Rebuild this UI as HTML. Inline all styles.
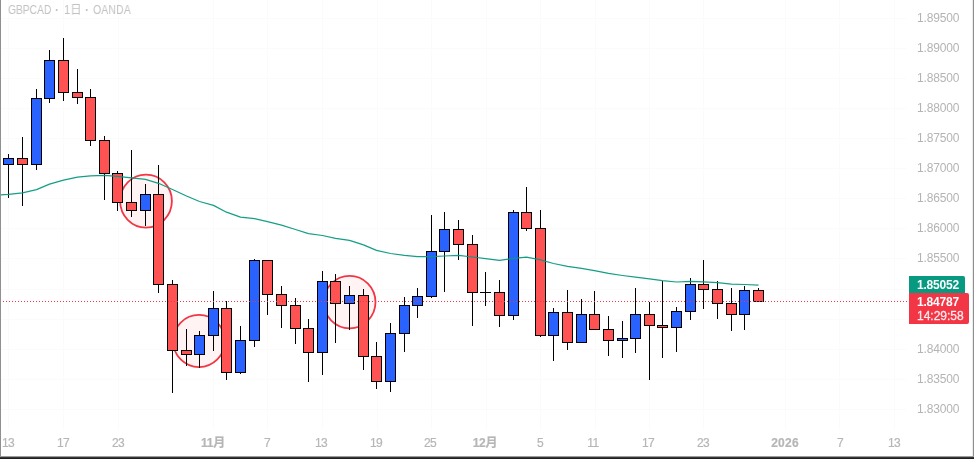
<!DOCTYPE html>
<html lang="ja"><head><meta charset="utf-8"><title>GBPCAD</title>
<style>
html,body{margin:0;padding:0;background:#fff;}
body{width:974px;height:459px;overflow:hidden;position:relative;font-family:"Liberation Sans","Noto Sans CJK JP",sans-serif;}
#c{position:absolute;left:0;top:0;width:974px;height:459px;display:block;}
.t{will-change:transform;position:absolute;white-space:nowrap;font-size:12px;line-height:14px;color:#b9b9b9;}
.pl{left:917px;width:44px;text-align:left;letter-spacing:-0.15px;color:#b4b4b4;}
.tl{top:436.3px;width:60px;margin-left:-30px;text-align:center;letter-spacing:-0.6px;color:#b6b6b6;-webkit-text-stroke:0.2px #b6b6b6;}
.b{font-weight:bold;}
#title{position:absolute;left:0;top:0;width:200px;height:20px;font-size:12px;line-height:14px;}
.ti{top:2.6px;color:#c2c2c2;transform-origin:0 50%;}
.tag{will-change:transform;position:absolute;left:909px;color:#fff;font-size:12px;line-height:14px;box-sizing:border-box;padding-left:8px;}
</style></head><body>
<svg id="c" width="974" height="459" viewBox="0 0 974 459"><g shape-rendering="crispEdges" fill="#fbfbfb"><rect x="8" y="0" width="1" height="429"/><rect x="63" y="0" width="1" height="429"/><rect x="118" y="0" width="1" height="429"/><rect x="213" y="0" width="1" height="429"/><rect x="267" y="0" width="1" height="429"/><rect x="322" y="0" width="1" height="429"/><rect x="377" y="0" width="1" height="429"/><rect x="431" y="0" width="1" height="429"/><rect x="486" y="0" width="1" height="429"/><rect x="540" y="0" width="1" height="429"/><rect x="595" y="0" width="1" height="429"/><rect x="649" y="0" width="1" height="429"/><rect x="703" y="0" width="1" height="429"/><rect x="785" y="0" width="1" height="429"/><rect x="839" y="0" width="1" height="429"/><rect x="894" y="0" width="1" height="429"/><rect x="0" y="18" width="906" height="1"/><rect x="0" y="48" width="906" height="1"/><rect x="0" y="78" width="906" height="1"/><rect x="0" y="108" width="906" height="1"/><rect x="0" y="138" width="906" height="1"/><rect x="0" y="168" width="906" height="1"/><rect x="0" y="198" width="906" height="1"/><rect x="0" y="228" width="906" height="1"/><rect x="0" y="258" width="906" height="1"/><rect x="0" y="289" width="906" height="1"/><rect x="0" y="319" width="906" height="1"/><rect x="0" y="349" width="906" height="1"/><rect x="0" y="379" width="906" height="1"/><rect x="0" y="409" width="906" height="1"/></g><ellipse cx="146.0" cy="201.1" rx="25.9" ry="26.5" fill="#fff4f3" stroke="#f23645" stroke-width="1.8"/><ellipse cx="199" cy="341" rx="25.9" ry="26.1" fill="#fff4f3" stroke="#f23645" stroke-width="1.8"/><ellipse cx="349.6" cy="302.1" rx="25.9" ry="26.25" fill="#fff4f3" stroke="#f23645" stroke-width="1.8"/><g shape-rendering="crispEdges"><rect x="8" y="154" width="1" height="44" fill="#000"/><rect x="3" y="158" width="11" height="7" fill="#000"/><rect x="4" y="159" width="9" height="5" fill="#2962ff"/><rect x="22" y="137" width="1" height="69" fill="#000"/><rect x="17" y="158" width="11" height="7" fill="#000"/><rect x="18" y="159" width="9" height="5" fill="#ff5252"/><rect x="36" y="89" width="1" height="81" fill="#000"/><rect x="31" y="98" width="11" height="67" fill="#000"/><rect x="32" y="99" width="9" height="65" fill="#2962ff"/><rect x="49" y="50" width="1" height="53" fill="#000"/><rect x="44" y="60" width="11" height="39" fill="#000"/><rect x="45" y="61" width="9" height="37" fill="#2962ff"/><rect x="63" y="38" width="1" height="63" fill="#000"/><rect x="58" y="60" width="11" height="33" fill="#000"/><rect x="59" y="61" width="9" height="31" fill="#ff5252"/><rect x="77" y="69" width="1" height="35" fill="#000"/><rect x="72" y="92" width="11" height="6" fill="#000"/><rect x="73" y="93" width="9" height="4" fill="#ff5252"/><rect x="90" y="89" width="1" height="57" fill="#000"/><rect x="85" y="97" width="11" height="44" fill="#000"/><rect x="86" y="98" width="9" height="42" fill="#ff5252"/><rect x="104" y="136" width="1" height="64" fill="#000"/><rect x="99" y="140" width="11" height="34" fill="#000"/><rect x="100" y="141" width="9" height="32" fill="#ff5252"/><rect x="117" y="171" width="1" height="40" fill="#000"/><rect x="112" y="173" width="11" height="30" fill="#000"/><rect x="113" y="174" width="9" height="28" fill="#ff5252"/><rect x="131" y="150" width="1" height="67" fill="#000"/><rect x="126" y="202" width="11" height="9" fill="#000"/><rect x="127" y="203" width="9" height="7" fill="#ff5252"/><rect x="145" y="184" width="1" height="42" fill="#000"/><rect x="140" y="194" width="11" height="17" fill="#000"/><rect x="141" y="195" width="9" height="15" fill="#2962ff"/><rect x="158" y="165" width="1" height="128" fill="#000"/><rect x="153" y="194" width="11" height="91" fill="#000"/><rect x="154" y="195" width="9" height="89" fill="#ff5252"/><rect x="172" y="280" width="1" height="113" fill="#000"/><rect x="167" y="284" width="11" height="67" fill="#000"/><rect x="168" y="285" width="9" height="65" fill="#ff5252"/><rect x="186" y="329" width="1" height="37" fill="#000"/><rect x="181" y="350" width="11" height="5" fill="#000"/><rect x="182" y="351" width="9" height="3" fill="#ff5252"/><rect x="199" y="331" width="1" height="37" fill="#000"/><rect x="194" y="335" width="11" height="20" fill="#000"/><rect x="195" y="336" width="9" height="18" fill="#2962ff"/><rect x="213" y="291" width="1" height="60" fill="#000"/><rect x="208" y="308" width="11" height="28" fill="#000"/><rect x="209" y="309" width="9" height="26" fill="#2962ff"/><rect x="226" y="301" width="1" height="79" fill="#000"/><rect x="221" y="308" width="11" height="65" fill="#000"/><rect x="222" y="309" width="9" height="63" fill="#ff5252"/><rect x="240" y="326" width="1" height="48" fill="#000"/><rect x="235" y="340" width="11" height="33" fill="#000"/><rect x="236" y="341" width="9" height="31" fill="#2962ff"/><rect x="254" y="259" width="1" height="88" fill="#000"/><rect x="249" y="260" width="11" height="81" fill="#000"/><rect x="250" y="261" width="9" height="79" fill="#2962ff"/><rect x="267" y="260" width="1" height="55" fill="#000"/><rect x="262" y="260" width="11" height="35" fill="#000"/><rect x="263" y="261" width="9" height="33" fill="#ff5252"/><rect x="281" y="286" width="1" height="42" fill="#000"/><rect x="276" y="294" width="11" height="12" fill="#000"/><rect x="277" y="295" width="9" height="10" fill="#ff5252"/><rect x="295" y="298" width="1" height="46" fill="#000"/><rect x="290" y="305" width="11" height="24" fill="#000"/><rect x="291" y="306" width="9" height="22" fill="#ff5252"/><rect x="308" y="319" width="1" height="63" fill="#000"/><rect x="303" y="328" width="11" height="25" fill="#000"/><rect x="304" y="329" width="9" height="23" fill="#ff5252"/><rect x="322" y="271" width="1" height="104" fill="#000"/><rect x="317" y="281" width="11" height="72" fill="#000"/><rect x="318" y="282" width="9" height="70" fill="#2962ff"/><rect x="335" y="274" width="1" height="69" fill="#000"/><rect x="330" y="281" width="11" height="23" fill="#000"/><rect x="331" y="282" width="9" height="21" fill="#ff5252"/><rect x="349" y="286" width="1" height="44" fill="#000"/><rect x="344" y="295" width="11" height="9" fill="#000"/><rect x="345" y="296" width="9" height="7" fill="#2962ff"/><rect x="363" y="289" width="1" height="81" fill="#000"/><rect x="358" y="295" width="11" height="62" fill="#000"/><rect x="359" y="296" width="9" height="60" fill="#ff5252"/><rect x="376" y="342" width="1" height="47" fill="#000"/><rect x="371" y="356" width="11" height="26" fill="#000"/><rect x="372" y="357" width="9" height="24" fill="#ff5252"/><rect x="390" y="323" width="1" height="69" fill="#000"/><rect x="385" y="333" width="11" height="49" fill="#000"/><rect x="386" y="334" width="9" height="47" fill="#2962ff"/><rect x="404" y="297" width="1" height="55" fill="#000"/><rect x="399" y="305" width="11" height="29" fill="#000"/><rect x="400" y="306" width="9" height="27" fill="#2962ff"/><rect x="417" y="288" width="1" height="30" fill="#000"/><rect x="412" y="296" width="11" height="10" fill="#000"/><rect x="413" y="297" width="9" height="8" fill="#2962ff"/><rect x="431" y="215" width="1" height="83" fill="#000"/><rect x="426" y="251" width="11" height="46" fill="#000"/><rect x="427" y="252" width="9" height="44" fill="#2962ff"/><rect x="444" y="212" width="1" height="80" fill="#000"/><rect x="439" y="229" width="11" height="23" fill="#000"/><rect x="440" y="230" width="9" height="21" fill="#2962ff"/><rect x="458" y="220" width="1" height="40" fill="#000"/><rect x="453" y="229" width="11" height="16" fill="#000"/><rect x="454" y="230" width="9" height="14" fill="#ff5252"/><rect x="472" y="235" width="1" height="91" fill="#000"/><rect x="467" y="244" width="11" height="49" fill="#000"/><rect x="468" y="245" width="9" height="47" fill="#ff5252"/><rect x="485" y="272" width="1" height="34" fill="#000"/><rect x="480" y="292" width="11" height="1" fill="#000"/><rect x="499" y="280" width="1" height="47" fill="#000"/><rect x="494" y="292" width="11" height="24" fill="#000"/><rect x="495" y="293" width="9" height="22" fill="#ff5252"/><rect x="513" y="210" width="1" height="110" fill="#000"/><rect x="508" y="212" width="11" height="104" fill="#000"/><rect x="509" y="213" width="9" height="102" fill="#2962ff"/><rect x="526" y="187" width="1" height="44" fill="#000"/><rect x="521" y="212" width="11" height="17" fill="#000"/><rect x="522" y="213" width="9" height="15" fill="#ff5252"/><rect x="540" y="210" width="1" height="127" fill="#000"/><rect x="535" y="228" width="11" height="108" fill="#000"/><rect x="536" y="229" width="9" height="106" fill="#ff5252"/><rect x="553" y="308" width="1" height="53" fill="#000"/><rect x="548" y="312" width="11" height="24" fill="#000"/><rect x="549" y="313" width="9" height="22" fill="#2962ff"/><rect x="567" y="290" width="1" height="60" fill="#000"/><rect x="562" y="312" width="11" height="31" fill="#000"/><rect x="563" y="313" width="9" height="29" fill="#ff5252"/><rect x="581" y="299" width="1" height="44" fill="#000"/><rect x="576" y="314" width="11" height="29" fill="#000"/><rect x="577" y="315" width="9" height="27" fill="#2962ff"/><rect x="594" y="291" width="1" height="39" fill="#000"/><rect x="589" y="314" width="11" height="16" fill="#000"/><rect x="590" y="315" width="9" height="14" fill="#ff5252"/><rect x="608" y="316" width="1" height="40" fill="#000"/><rect x="603" y="329" width="11" height="12" fill="#000"/><rect x="604" y="330" width="9" height="10" fill="#ff5252"/><rect x="622" y="321" width="1" height="37" fill="#000"/><rect x="617" y="338" width="11" height="3" fill="#000"/><rect x="618" y="339" width="9" height="1" fill="#2962ff"/><rect x="635" y="288" width="1" height="65" fill="#000"/><rect x="630" y="314" width="11" height="25" fill="#000"/><rect x="631" y="315" width="9" height="23" fill="#2962ff"/><rect x="649" y="302" width="1" height="78" fill="#000"/><rect x="644" y="314" width="11" height="12" fill="#000"/><rect x="645" y="315" width="9" height="10" fill="#ff5252"/><rect x="662" y="281" width="1" height="77" fill="#000"/><rect x="657" y="325" width="11" height="3" fill="#000"/><rect x="658" y="326" width="9" height="1" fill="#ff5252"/><rect x="676" y="307" width="1" height="45" fill="#000"/><rect x="671" y="311" width="11" height="17" fill="#000"/><rect x="672" y="312" width="9" height="15" fill="#2962ff"/><rect x="690" y="278" width="1" height="42" fill="#000"/><rect x="685" y="284" width="11" height="28" fill="#000"/><rect x="686" y="285" width="9" height="26" fill="#2962ff"/><rect x="703" y="260" width="1" height="49" fill="#000"/><rect x="698" y="284" width="11" height="6" fill="#000"/><rect x="699" y="285" width="9" height="4" fill="#ff5252"/><rect x="717" y="281" width="1" height="38" fill="#000"/><rect x="712" y="289" width="11" height="15" fill="#000"/><rect x="713" y="290" width="9" height="13" fill="#ff5252"/><rect x="731" y="288" width="1" height="43" fill="#000"/><rect x="726" y="303" width="11" height="12" fill="#000"/><rect x="727" y="304" width="9" height="10" fill="#ff5252"/><rect x="744" y="286" width="1" height="44" fill="#000"/><rect x="739" y="290" width="11" height="25" fill="#000"/><rect x="740" y="291" width="9" height="23" fill="#2962ff"/><rect x="758" y="288" width="1" height="14" fill="#000"/><rect x="753" y="290" width="11" height="12" fill="#000"/><rect x="754" y="291" width="9" height="10" fill="#ff5252"/></g><polyline points="0.5,194.8 8.5,194.3 22.5,192.8 36.5,189.6 49.5,184.2 63.5,180.2 77.5,177.2 90.5,175.8 104.5,175.3 117.5,176.3 131.5,177.8 145.5,179.3 158.5,183.3 172.5,189.5 186.5,196.0 199.5,201.5 213.5,205.4 226.5,212.2 240.5,217.2 254.5,218.7 267.5,221.7 281.5,225.2 295.5,229.5 308.5,233.7 322.5,235.5 335.5,238.3 349.5,240.4 363.5,244.9 376.5,250.4 390.5,253.5 404.5,255.4 417.5,256.7 431.5,256.6 444.5,256.0 458.5,255.4 472.5,257.0 485.5,258.6 499.5,260.4 513.5,258.4 526.5,257.1 540.5,259.9 553.5,263.5 567.5,266.3 581.5,268.3 594.5,270.6 608.5,273.4 622.5,275.5 635.5,277.2 649.5,278.9 662.5,280.7 676.5,282.0 690.5,281.4 703.5,281.8 717.5,282.6 731.5,284.1 744.5,284.5 758.5,285.2" fill="none" stroke="#089981" stroke-width="1.25" stroke-opacity="0.95" stroke-linejoin="round"/><g shape-rendering="crispEdges" fill="#f23645"><rect x="0" y="301" width="1" height="1"/><rect x="3" y="301" width="1" height="1"/><rect x="6" y="301" width="1" height="1"/><rect x="9" y="301" width="1" height="1"/><rect x="12" y="301" width="1" height="1"/><rect x="15" y="301" width="1" height="1"/><rect x="18" y="301" width="1" height="1"/><rect x="21" y="301" width="1" height="1"/><rect x="24" y="301" width="1" height="1"/><rect x="27" y="301" width="1" height="1"/><rect x="30" y="301" width="1" height="1"/><rect x="33" y="301" width="1" height="1"/><rect x="36" y="301" width="1" height="1"/><rect x="39" y="301" width="1" height="1"/><rect x="42" y="301" width="1" height="1"/><rect x="45" y="301" width="1" height="1"/><rect x="48" y="301" width="1" height="1"/><rect x="51" y="301" width="1" height="1"/><rect x="54" y="301" width="1" height="1"/><rect x="57" y="301" width="1" height="1"/><rect x="60" y="301" width="1" height="1"/><rect x="63" y="301" width="1" height="1"/><rect x="66" y="301" width="1" height="1"/><rect x="69" y="301" width="1" height="1"/><rect x="72" y="301" width="1" height="1"/><rect x="75" y="301" width="1" height="1"/><rect x="78" y="301" width="1" height="1"/><rect x="81" y="301" width="1" height="1"/><rect x="84" y="301" width="1" height="1"/><rect x="87" y="301" width="1" height="1"/><rect x="90" y="301" width="1" height="1"/><rect x="93" y="301" width="1" height="1"/><rect x="96" y="301" width="1" height="1"/><rect x="99" y="301" width="1" height="1"/><rect x="102" y="301" width="1" height="1"/><rect x="105" y="301" width="1" height="1"/><rect x="108" y="301" width="1" height="1"/><rect x="111" y="301" width="1" height="1"/><rect x="114" y="301" width="1" height="1"/><rect x="117" y="301" width="1" height="1"/><rect x="120" y="301" width="1" height="1"/><rect x="123" y="301" width="1" height="1"/><rect x="126" y="301" width="1" height="1"/><rect x="129" y="301" width="1" height="1"/><rect x="132" y="301" width="1" height="1"/><rect x="135" y="301" width="1" height="1"/><rect x="138" y="301" width="1" height="1"/><rect x="141" y="301" width="1" height="1"/><rect x="144" y="301" width="1" height="1"/><rect x="147" y="301" width="1" height="1"/><rect x="150" y="301" width="1" height="1"/><rect x="153" y="301" width="1" height="1"/><rect x="156" y="301" width="1" height="1"/><rect x="159" y="301" width="1" height="1"/><rect x="162" y="301" width="1" height="1"/><rect x="165" y="301" width="1" height="1"/><rect x="168" y="301" width="1" height="1"/><rect x="171" y="301" width="1" height="1"/><rect x="174" y="301" width="1" height="1"/><rect x="177" y="301" width="1" height="1"/><rect x="180" y="301" width="1" height="1"/><rect x="183" y="301" width="1" height="1"/><rect x="186" y="301" width="1" height="1"/><rect x="189" y="301" width="1" height="1"/><rect x="192" y="301" width="1" height="1"/><rect x="195" y="301" width="1" height="1"/><rect x="198" y="301" width="1" height="1"/><rect x="201" y="301" width="1" height="1"/><rect x="204" y="301" width="1" height="1"/><rect x="207" y="301" width="1" height="1"/><rect x="210" y="301" width="1" height="1"/><rect x="213" y="301" width="1" height="1"/><rect x="216" y="301" width="1" height="1"/><rect x="219" y="301" width="1" height="1"/><rect x="222" y="301" width="1" height="1"/><rect x="225" y="301" width="1" height="1"/><rect x="228" y="301" width="1" height="1"/><rect x="231" y="301" width="1" height="1"/><rect x="234" y="301" width="1" height="1"/><rect x="237" y="301" width="1" height="1"/><rect x="240" y="301" width="1" height="1"/><rect x="243" y="301" width="1" height="1"/><rect x="246" y="301" width="1" height="1"/><rect x="249" y="301" width="1" height="1"/><rect x="252" y="301" width="1" height="1"/><rect x="255" y="301" width="1" height="1"/><rect x="258" y="301" width="1" height="1"/><rect x="261" y="301" width="1" height="1"/><rect x="264" y="301" width="1" height="1"/><rect x="267" y="301" width="1" height="1"/><rect x="270" y="301" width="1" height="1"/><rect x="273" y="301" width="1" height="1"/><rect x="276" y="301" width="1" height="1"/><rect x="279" y="301" width="1" height="1"/><rect x="282" y="301" width="1" height="1"/><rect x="285" y="301" width="1" height="1"/><rect x="288" y="301" width="1" height="1"/><rect x="291" y="301" width="1" height="1"/><rect x="294" y="301" width="1" height="1"/><rect x="297" y="301" width="1" height="1"/><rect x="300" y="301" width="1" height="1"/><rect x="303" y="301" width="1" height="1"/><rect x="306" y="301" width="1" height="1"/><rect x="309" y="301" width="1" height="1"/><rect x="312" y="301" width="1" height="1"/><rect x="315" y="301" width="1" height="1"/><rect x="318" y="301" width="1" height="1"/><rect x="321" y="301" width="1" height="1"/><rect x="324" y="301" width="1" height="1"/><rect x="327" y="301" width="1" height="1"/><rect x="330" y="301" width="1" height="1"/><rect x="333" y="301" width="1" height="1"/><rect x="336" y="301" width="1" height="1"/><rect x="339" y="301" width="1" height="1"/><rect x="342" y="301" width="1" height="1"/><rect x="345" y="301" width="1" height="1"/><rect x="348" y="301" width="1" height="1"/><rect x="351" y="301" width="1" height="1"/><rect x="354" y="301" width="1" height="1"/><rect x="357" y="301" width="1" height="1"/><rect x="360" y="301" width="1" height="1"/><rect x="363" y="301" width="1" height="1"/><rect x="366" y="301" width="1" height="1"/><rect x="369" y="301" width="1" height="1"/><rect x="372" y="301" width="1" height="1"/><rect x="375" y="301" width="1" height="1"/><rect x="378" y="301" width="1" height="1"/><rect x="381" y="301" width="1" height="1"/><rect x="384" y="301" width="1" height="1"/><rect x="387" y="301" width="1" height="1"/><rect x="390" y="301" width="1" height="1"/><rect x="393" y="301" width="1" height="1"/><rect x="396" y="301" width="1" height="1"/><rect x="399" y="301" width="1" height="1"/><rect x="402" y="301" width="1" height="1"/><rect x="405" y="301" width="1" height="1"/><rect x="408" y="301" width="1" height="1"/><rect x="411" y="301" width="1" height="1"/><rect x="414" y="301" width="1" height="1"/><rect x="417" y="301" width="1" height="1"/><rect x="420" y="301" width="1" height="1"/><rect x="423" y="301" width="1" height="1"/><rect x="426" y="301" width="1" height="1"/><rect x="429" y="301" width="1" height="1"/><rect x="432" y="301" width="1" height="1"/><rect x="435" y="301" width="1" height="1"/><rect x="438" y="301" width="1" height="1"/><rect x="441" y="301" width="1" height="1"/><rect x="444" y="301" width="1" height="1"/><rect x="447" y="301" width="1" height="1"/><rect x="450" y="301" width="1" height="1"/><rect x="453" y="301" width="1" height="1"/><rect x="456" y="301" width="1" height="1"/><rect x="459" y="301" width="1" height="1"/><rect x="462" y="301" width="1" height="1"/><rect x="465" y="301" width="1" height="1"/><rect x="468" y="301" width="1" height="1"/><rect x="471" y="301" width="1" height="1"/><rect x="474" y="301" width="1" height="1"/><rect x="477" y="301" width="1" height="1"/><rect x="480" y="301" width="1" height="1"/><rect x="483" y="301" width="1" height="1"/><rect x="486" y="301" width="1" height="1"/><rect x="489" y="301" width="1" height="1"/><rect x="492" y="301" width="1" height="1"/><rect x="495" y="301" width="1" height="1"/><rect x="498" y="301" width="1" height="1"/><rect x="501" y="301" width="1" height="1"/><rect x="504" y="301" width="1" height="1"/><rect x="507" y="301" width="1" height="1"/><rect x="510" y="301" width="1" height="1"/><rect x="513" y="301" width="1" height="1"/><rect x="516" y="301" width="1" height="1"/><rect x="519" y="301" width="1" height="1"/><rect x="522" y="301" width="1" height="1"/><rect x="525" y="301" width="1" height="1"/><rect x="528" y="301" width="1" height="1"/><rect x="531" y="301" width="1" height="1"/><rect x="534" y="301" width="1" height="1"/><rect x="537" y="301" width="1" height="1"/><rect x="540" y="301" width="1" height="1"/><rect x="543" y="301" width="1" height="1"/><rect x="546" y="301" width="1" height="1"/><rect x="549" y="301" width="1" height="1"/><rect x="552" y="301" width="1" height="1"/><rect x="555" y="301" width="1" height="1"/><rect x="558" y="301" width="1" height="1"/><rect x="561" y="301" width="1" height="1"/><rect x="564" y="301" width="1" height="1"/><rect x="567" y="301" width="1" height="1"/><rect x="570" y="301" width="1" height="1"/><rect x="573" y="301" width="1" height="1"/><rect x="576" y="301" width="1" height="1"/><rect x="579" y="301" width="1" height="1"/><rect x="582" y="301" width="1" height="1"/><rect x="585" y="301" width="1" height="1"/><rect x="588" y="301" width="1" height="1"/><rect x="591" y="301" width="1" height="1"/><rect x="594" y="301" width="1" height="1"/><rect x="597" y="301" width="1" height="1"/><rect x="600" y="301" width="1" height="1"/><rect x="603" y="301" width="1" height="1"/><rect x="606" y="301" width="1" height="1"/><rect x="609" y="301" width="1" height="1"/><rect x="612" y="301" width="1" height="1"/><rect x="615" y="301" width="1" height="1"/><rect x="618" y="301" width="1" height="1"/><rect x="621" y="301" width="1" height="1"/><rect x="624" y="301" width="1" height="1"/><rect x="627" y="301" width="1" height="1"/><rect x="630" y="301" width="1" height="1"/><rect x="633" y="301" width="1" height="1"/><rect x="636" y="301" width="1" height="1"/><rect x="639" y="301" width="1" height="1"/><rect x="642" y="301" width="1" height="1"/><rect x="645" y="301" width="1" height="1"/><rect x="648" y="301" width="1" height="1"/><rect x="651" y="301" width="1" height="1"/><rect x="654" y="301" width="1" height="1"/><rect x="657" y="301" width="1" height="1"/><rect x="660" y="301" width="1" height="1"/><rect x="663" y="301" width="1" height="1"/><rect x="666" y="301" width="1" height="1"/><rect x="669" y="301" width="1" height="1"/><rect x="672" y="301" width="1" height="1"/><rect x="675" y="301" width="1" height="1"/><rect x="678" y="301" width="1" height="1"/><rect x="681" y="301" width="1" height="1"/><rect x="684" y="301" width="1" height="1"/><rect x="687" y="301" width="1" height="1"/><rect x="690" y="301" width="1" height="1"/><rect x="693" y="301" width="1" height="1"/><rect x="696" y="301" width="1" height="1"/><rect x="699" y="301" width="1" height="1"/><rect x="702" y="301" width="1" height="1"/><rect x="705" y="301" width="1" height="1"/><rect x="708" y="301" width="1" height="1"/><rect x="711" y="301" width="1" height="1"/><rect x="714" y="301" width="1" height="1"/><rect x="717" y="301" width="1" height="1"/><rect x="720" y="301" width="1" height="1"/><rect x="723" y="301" width="1" height="1"/><rect x="726" y="301" width="1" height="1"/><rect x="729" y="301" width="1" height="1"/><rect x="732" y="301" width="1" height="1"/><rect x="735" y="301" width="1" height="1"/><rect x="738" y="301" width="1" height="1"/><rect x="741" y="301" width="1" height="1"/><rect x="744" y="301" width="1" height="1"/><rect x="747" y="301" width="1" height="1"/><rect x="750" y="301" width="1" height="1"/><rect x="753" y="301" width="1" height="1"/><rect x="756" y="301" width="1" height="1"/><rect x="759" y="301" width="1" height="1"/><rect x="762" y="301" width="1" height="1"/><rect x="765" y="301" width="1" height="1"/><rect x="768" y="301" width="1" height="1"/><rect x="771" y="301" width="1" height="1"/><rect x="774" y="301" width="1" height="1"/><rect x="777" y="301" width="1" height="1"/><rect x="780" y="301" width="1" height="1"/><rect x="783" y="301" width="1" height="1"/><rect x="786" y="301" width="1" height="1"/><rect x="789" y="301" width="1" height="1"/><rect x="792" y="301" width="1" height="1"/><rect x="795" y="301" width="1" height="1"/><rect x="798" y="301" width="1" height="1"/><rect x="801" y="301" width="1" height="1"/><rect x="804" y="301" width="1" height="1"/><rect x="807" y="301" width="1" height="1"/><rect x="810" y="301" width="1" height="1"/><rect x="813" y="301" width="1" height="1"/><rect x="816" y="301" width="1" height="1"/><rect x="819" y="301" width="1" height="1"/><rect x="822" y="301" width="1" height="1"/><rect x="825" y="301" width="1" height="1"/><rect x="828" y="301" width="1" height="1"/><rect x="831" y="301" width="1" height="1"/><rect x="834" y="301" width="1" height="1"/><rect x="837" y="301" width="1" height="1"/><rect x="840" y="301" width="1" height="1"/><rect x="843" y="301" width="1" height="1"/><rect x="846" y="301" width="1" height="1"/><rect x="849" y="301" width="1" height="1"/><rect x="852" y="301" width="1" height="1"/><rect x="855" y="301" width="1" height="1"/><rect x="858" y="301" width="1" height="1"/><rect x="861" y="301" width="1" height="1"/><rect x="864" y="301" width="1" height="1"/><rect x="867" y="301" width="1" height="1"/><rect x="870" y="301" width="1" height="1"/><rect x="873" y="301" width="1" height="1"/><rect x="876" y="301" width="1" height="1"/><rect x="879" y="301" width="1" height="1"/><rect x="882" y="301" width="1" height="1"/><rect x="885" y="301" width="1" height="1"/><rect x="888" y="301" width="1" height="1"/><rect x="891" y="301" width="1" height="1"/><rect x="894" y="301" width="1" height="1"/><rect x="897" y="301" width="1" height="1"/><rect x="900" y="301" width="1" height="1"/><rect x="903" y="301" width="1" height="1"/><rect x="906" y="301" width="1" height="1"/></g><path d="M909 276H963a2 2 0 0 1 2 2V293H909Z" fill="#089981"/><path d="M909 293H967a2 2 0 0 1 2 2V322a2 2 0 0 1 -2 2H909Z" fill="#f23645"/><g shape-rendering="crispEdges"><rect x="0" y="0" width="1" height="459" fill="#909090"/><rect x="973" y="0" width="1" height="459" fill="#8f8f8f"/><rect x="972" y="0" width="1" height="459" fill="#ececec"/><rect x="0" y="456" width="974" height="1" fill="#9c9c9c"/><rect x="0" y="457" width="974" height="1" fill="#383838"/><rect x="0" y="458" width="974" height="1" fill="#1e1e1e"/></g></svg>
<div id="title"><span class="t ti" style="left:7.5px;transform:scaleX(.855)">GBPCAD</span> <span class="t ti b" style="left:54.6px;">·</span> <span class="t ti" style="left:63.5px;transform:scaleX(.93)">1日</span> <span class="t ti b" style="left:84.9px;">·</span> <span class="t ti" style="left:92.5px;transform:scaleX(.885)">OANDA</span></div>
<div class="t pl" style="top:11px">1.89500</div><div class="t pl" style="top:41px">1.89000</div><div class="t pl" style="top:71px">1.88500</div><div class="t pl" style="top:101px">1.88000</div><div class="t pl" style="top:131px">1.87500</div><div class="t pl" style="top:161px">1.87000</div><div class="t pl" style="top:191px">1.86500</div><div class="t pl" style="top:221px">1.86000</div><div class="t pl" style="top:251px">1.85500</div><div class="t pl" style="top:342px">1.84000</div><div class="t pl" style="top:372px">1.83500</div><div class="t pl" style="top:402px">1.83000</div>
<div class="t tl" style="left:7.6px">13</div><div class="t tl" style="left:62.5px">17</div><div class="t tl" style="left:117.5px">23</div><div class="t tl b" style="left:212.75px;letter-spacing:-0.2px">11月</div><div class="t tl" style="left:267.2px">7</div><div class="t tl" style="left:320.9px">13</div><div class="t tl" style="left:375.6px">19</div><div class="t tl" style="left:430.4px">25</div><div class="t tl b" style="left:484.8px;letter-spacing:-0.2px">12月</div><div class="t tl" style="left:539.6px">5</div><div class="t tl" style="left:593px">11</div><div class="t tl" style="left:648.3px">17</div><div class="t tl" style="left:703.2px">23</div><div class="t tl b" style="left:784.9px;letter-spacing:0.25px">2026</div><div class="t tl" style="left:839.8px">7</div><div class="t tl" style="left:893.8px">13</div>
<div class="tag b" style="top:277.5px;letter-spacing:-0.2px">1.85052</div><div class="tag b" style="top:294.5px;letter-spacing:-0.2px">1.84787</div><div class="tag" style="top:308.5px;color:rgba(255,255,255,.86);-webkit-text-stroke:0.3px rgba(255,255,255,.8)">14:29:58</div>
</body></html>
